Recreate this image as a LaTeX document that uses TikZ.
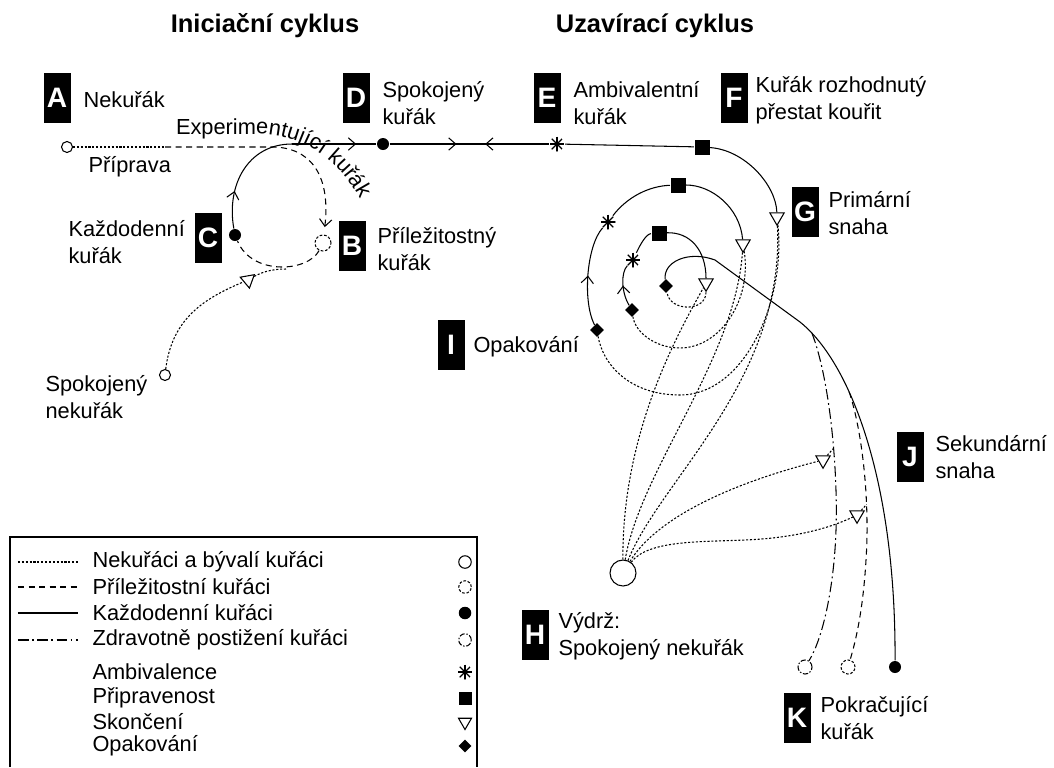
\documentclass[tikz,border=0pt]{standalone}
\usepackage{fontspec}
\setmainfont{Liberation Sans}
\usetikzlibrary{shapes.geometric, arrows.meta, decorations.markings, decorations.text}

\tikzset{
    barb/.tip={Straight Barb[length=4pt,width=7pt]},
    mid arrow/.style={postaction={decorate, decoration={markings,
        mark=at position #1 with {\arrow{barb}}}}},
    back arrow/.style={postaction={decorate, decoration={markings,
        mark=at position #1 with {\arrowreversed{barb}}}}},
}

\begin{document}
\begin{tikzpicture}[
        x=0.2mm, y=-0.2mm, line width=0.6pt,
        nonsmk/.style={dash pattern=on 1.2pt off 1pt},
        occas/.style={dash pattern=on 3.5pt off 2.5pt},
        daily/.style={solid},
        health/.style={dash pattern=on 6pt off 2pt on 1pt off 2pt},
        tag/.style={fill=black, text=white, inner sep=0pt, minimum width=5.4mm,
            minimum height=10mm, font=\bfseries\fontsize{16}{16}\selectfont},
        lbl/.style={anchor=west, align=left, inner sep=0pt,
            font=\fontsize{12.4}{15.3}\selectfont},
        title/.style={font=\bfseries\fontsize{14.5}{16}\selectfont},
        opencirc/.style={circle, draw, fill=white, solid, inner sep=0pt, minimum size=2.2mm},
        dashcirc/.style={opencirc, dash pattern=on 1.5pt off 1pt},
        hlthcirc/.style={opencirc, dash pattern=on 3pt off 1pt on 0.8pt off 1pt},
        dotcirc/.style={circle, fill, inner sep=0pt, minimum size=2.4mm},
        astmark/.style={circle, inner sep=0pt, minimum size=3mm, path picture={
            \foreach \a in {0,45,90,135}
                \draw[line width=0.7pt] (path picture bounding box.center) +(\a:1.5mm) -- +(\a+180:1.5mm);
        }},
        readybox/.style={rectangle, fill, inner sep=0pt, minimum size=3mm},
        endtri/.style={regular polygon, regular polygon sides=3, draw, solid, fill=white,
            inner sep=0pt, minimum size=3.3mm, shape border rotate=180},
        relmark/.style={diamond, fill, inner sep=0pt, minimum size=2.8mm}
    ]

    \useasboundingbox (0,0) rectangle (1054,767);

    \node[title] (tinit) at (265,26) {Iniciační cyklus};
    \node[title] (tclose) at (655,26) {Uzavírací cyklus};

    % letter tags and labels
    \node[tag] (ta) at (57,98) {A};
    \node[lbl] (la) at (83,100) {Nekuřák};
    \node[tag] (td) at (356,98) {D};
    \node[lbl] (ld) at (382,103) {Spokojený\\kuřák};
    \node[tag] (te) at (547,98) {E};
    \node[lbl] (le) at (573,103) {Ambivalentní\\kuřák};
    \node[tag] (tf) at (734,98) {F};
    \node[lbl] (lf) at (755,100) {Kuřák rozhodnutý\\přestat kouřit};
    \node[tag] (tc) at (208,238) {C};
    \node[lbl] (lc) at (68,242) {Každodenní\\kuřák};
    \node[tag] (tb) at (352,246) {B};
    \node[lbl] (lb) at (377,249) {Příležitostný\\kuřák};
    \node[tag] (tg) at (805,212) {G};
    \node[lbl] (lg) at (828,213) {Primární\\snaha};
    \node[tag] (ti) at (451,345) {I};
    \node[lbl] (li) at (473,347) {Opakování};
    \node[tag] (tj) at (910,457) {J};
    \node[lbl] (lj) at (935,457) {Sekundární\\snaha};
    \node[tag] (th) at (535,635) {H};
    \node[lbl] (lh) at (558,636) {Výdrž:\\Spokojený nekuřák};
    \node[tag] (tk) at (797,718) {K};
    \node[lbl] (lk) at (820,718) {Pokračující\\kuřák};
    \node[lbl] (lpr) at (88,167) {Příprava};
    \node[lbl] (lsn) at (45,397) {Spokojený\\nekuřák};

    % markers
    \node[opencirc] (a0) at (67,147) {};
    \node[opencirc] (sn) at (165,375) {};
    \node[dashcirc, minimum size=3.2mm] (b0) at (323,243) {};
    \node[dotcirc] (c0) at (235,235) {};
    \node[endtri, shape border rotate=-50] (tl) at (248,280) {};
    \node[dotcirc] (d0) at (383,144) {};
    \node[astmark] (e0) at (557,144) {};
    \node[readybox] (f0) at (702,147) {};
    \node[endtri] (t1) at (777,217) {};
    \node[relmark] (r1) at (597,330) {};
    \node[astmark] (e2) at (608,222) {};
    \node[readybox] (s2) at (678,185) {};
    \node[endtri] (t2) at (743,244) {};
    \node[relmark] (r2) at (632,310) {};
    \node[astmark] (e3) at (633,260) {};
    \node[readybox] (s3) at (659,233) {};
    \node[endtri] (t3) at (706,283) {};
    \node[relmark] (r3) at (666,286) {};
    \node[opencirc, minimum size=5.2mm] (h0) at (623,573) {};
    \node[hlthcirc, minimum size=2.8mm] (k1) at (805,667) {};
    \node[dashcirc, minimum size=2.8mm] (k2) at (848,667) {};
    \node[dotcirc] (k3) at (895,667) {};

    % initiation cycle
    \coordinate (xp) at (165,147);
    \coordinate (ctop) at (292,144);
    \coordinate (cb) at (286,269);
    \draw[nonsmk] (a0) -- (xp);
    \draw[occas, -barb, shorten >=1.5mm] (xp) -- (272,147) .. controls (308,147) and (331,172) .. (b0);
    \draw[occas] (b0) .. controls (308,272) and (252,276) .. (c0);
    \draw[daily, mid arrow=.32] (c0) .. controls (226,185) and (248,144) .. (ctop);
    \draw[daily, mid arrow=.76] (ctop) -- (d0);
    \draw[nonsmk] (sn) .. controls (172,318) and (205,298) .. (tl);
    \draw[nonsmk] (tl) .. controls (262,272) and (272,269) .. (cb);
    \path[decorate, decoration={text along path, text align=left,
        text={|\fontsize{12.4}{14}\selectfont|Experimentující kuřák}}]
        (176,134) -- (256,134) .. controls (302,134) and (344,158) .. (368,216);

    % closing cycle
    \draw[daily, mid arrow=.42, back arrow=.6] (d0) -- (e0);
    \draw[daily] (e0) -- (f0);
    \draw[daily] (f0) .. controls (745,150) and (776,185) .. (t1);
    \draw[nonsmk] (t1) .. controls (786,300) and (745,395) .. (680,395)
        .. controls (630,395) and (603,365) .. (r1);
    \draw[daily, mid arrow=.5] (r1) .. controls (582,300) and (587,245) .. (e2);
    \draw[daily] (e2) .. controls (628,196) and (650,186) .. (s2);
    \draw[daily] (s2) .. controls (712,185) and (740,208) .. (t2);
    \draw[nonsmk] (t2) .. controls (752,300) and (720,348) .. (680,348)
        .. controls (655,348) and (635,332) .. (r2);
    \draw[daily, mid arrow=.5] (r2) .. controls (621,292) and (621,272) .. (e3);
    \draw[daily] (e3) .. controls (640,245) and (646,234) .. (s3);
    \draw[daily] (s3) .. controls (690,232) and (706,250) .. (t3);
    \draw[nonsmk] (t3) .. controls (706,312) and (670,312) .. (r3);
    \draw[daily] (r3) .. controls (663,262) and (688,250) .. (715,260) -- (800,322)
        .. controls (850,362) and (896,480) .. (k3) coordinate[pos=.08] (jdd) coordinate[pos=.35] (jds);
    \draw[health] (jdd) .. controls (830,380) and (838,470) .. (836,530) coordinate[pos=.6] (jh1)
        .. controls (834,590) and (822,640) .. (k1);
    \draw[occas] (jds) .. controls (862,430) and (870,500) .. (866,560) coordinate[pos=.7] (jh2)
        .. controls (863,610) and (856,640) .. (k2);
    \node[endtri, shape border rotate=-60] (tj1) at (823,460) {};
    \node[endtri, shape border rotate=-60] (tj2) at (857,515) {};

    % back to the non-smoker
    \draw[nonsmk] (h0) .. controls (622,430) and (680,330) .. (t3);
    \draw[nonsmk] (h0) .. controls (640,470) and (735,360) .. (t2);
    \draw[nonsmk] (h0) .. controls (660,480) and (785,380) .. (t1);
    \draw[nonsmk] (h0) .. controls (655,520) and (725,485) .. (tj1);
    \draw[nonsmk] (tj1) -- (jh1);
    \draw[nonsmk] (h0) .. controls (648,540) and (700,542) .. (745,540)
        .. controls (795,538) and (830,528) .. (tj2);
    \draw[nonsmk] (tj2) -- (jh2);

    % legend
    \draw (10,767) -- (10,537) -- (477,537) -- (477,767);
    \node[lbl] (lg1) at (92,562) {Nekuřáci a bývalí kuřáci};
    \node[lbl] (lg2) at (92,587) {Příležitostní kuřáci};
    \node[lbl] (lg3) at (92,613) {Každodenní kuřáci};
    \node[lbl] (lg4) at (92,640) {Zdravotně postižení kuřáci};
    \node[lbl] (lg5) at (92,672) {Ambivalence};
    \node[lbl] (lg6) at (92,698) {Připravenost};
    \node[lbl] (lg7) at (92,722) {Skončení};
    \node[lbl] (lg8) at (92,746) {Opakování};
    \draw[nonsmk] ([xshift=-14.8mm]lg1.west) -- ([xshift=-2.8mm]lg1.west);
    \draw[occas] ([xshift=-14.8mm]lg2.west) -- ([xshift=-2.8mm]lg2.west);
    \draw[daily] ([xshift=-14.8mm]lg3.west) -- ([xshift=-2.8mm]lg3.west);
    \draw[health] ([xshift=-14.8mm]lg4.west) -- ([xshift=-2.8mm]lg4.west);
    \node[opencirc, minimum size=2.5mm] (ls1) at (465,562) {};
    \node[dashcirc, minimum size=2.5mm] (ls2) at (465,587) {};
    \node[dotcirc, minimum size=2.5mm] (ls3) at (465,613) {};
    \node[hlthcirc, minimum size=2.5mm] (ls4) at (465,640) {};
    \node[astmark] (ls5) at (465,672) {};
    \node[readybox, minimum size=2.6mm] (ls6) at (465,698) {};
    \node[endtri, minimum size=3mm] (ls7) at (465,722) {};
    \node[relmark, minimum size=2.6mm] (ls8) at (465,746) {};

\end{tikzpicture}
\end{document}
